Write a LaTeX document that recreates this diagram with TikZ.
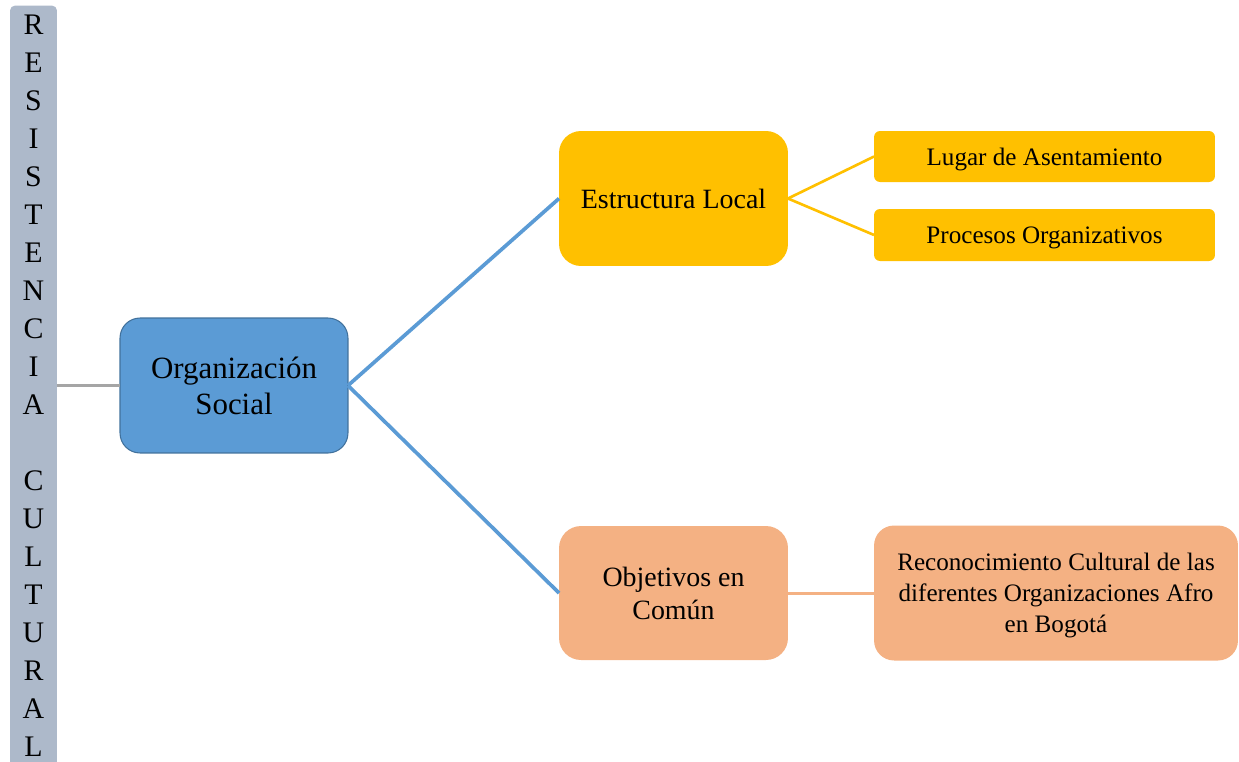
\documentclass[tikz,border=0pt]{standalone}
\usepackage{fontspec}
\setmainfont{Liberation Serif}
\usepackage{tikz}

\definecolor{barcolor}{HTML}{ADB9CA}
\definecolor{orgblue}{HTML}{5B9BD5}
\definecolor{orgedge}{HTML}{41719C}
\definecolor{estrgold}{HTML}{FFC000}
\definecolor{objpeach}{HTML}{F4B183}
\definecolor{linkgray}{HTML}{A5A5A5}

\tikzset{
  box/.style={rectangle, inner sep=0pt, outer sep=0pt, align=center, text=black},
  barletter/.style={inner sep=0pt, font=\fontsize{17}{20}\selectfont},
  link/.style={line width=2.1pt}
}

\begin{document}
\begin{tikzpicture}[x=0.02cm, y=-0.02cm]
  \useasboundingbox (0,0) rectangle (1239,761);

  % Side bar
  \node[box, fill=barcolor, rounded corners=0.1cm, minimum width=0.94cm, minimum height=15.9cm] (barra) at (33.5,403) {};
  \foreach \ch [count=\i from 0] in {R,E,S,I,S,T,E,N,C,I,A,{},C,U,L,T,U,R,A,L} {
    \node[barletter] (letra\i) at (33.5,25+\i*38) {\ch};
  }

  % Main node
  \node[box, fill=orgblue, draw=orgedge, line width=0.6pt, rounded corners=0.4cm,
        minimum width=4.56cm, minimum height=2.7cm, font=\fontsize{17.6}{20.5}\selectfont]
        (org) at (234,385.5) {Organización\\Social};

  % Second level
  \node[box, fill=estrgold, rounded corners=0.44cm, minimum width=4.58cm, minimum height=2.7cm,
        font=\fontsize{15.9}{18.8}\selectfont] (estr) at (673.5,198.5) {Estructura Local};
  \node[box, fill=objpeach, rounded corners=0.44cm, minimum width=4.58cm, minimum height=2.68cm,
        font=\fontsize{15.9}{18.8}\selectfont] (obj) at (673.5,593) {Objetivos en\\Común};

  % Third level
  \node[box, fill=estrgold, rounded corners=0.12cm, minimum width=6.82cm, minimum height=1.02cm,
        text depth=0pt, font=\fontsize{14.3}{17.6}\selectfont] (lugar) at (1044.5,156.5) {Lugar de Asentamiento};
  \node[box, fill=estrgold, rounded corners=0.12cm, minimum width=6.82cm, minimum height=1.04cm,
        text depth=0pt, font=\fontsize{14.3}{17.6}\selectfont] (proc) at (1044.5,235) {Procesos Organizativos};
  \node[box, fill=objpeach, rounded corners=0.4cm, minimum width=7.28cm, minimum height=2.7cm,
        text depth=0pt, font=\fontsize{14.3}{17.7}\selectfont] (recon) at (1056,593)
        {Reconocimiento Cultural de las\\diferentes Organizaciones Afro\\en Bogotá};

  % Links
  \draw[link, linkgray, line width=1.7pt] (barra.east |- org.west) -- (org.west);
  \draw[link, orgblue] (org.east) -- (estr.west);
  \draw[link, orgblue] (org.east) -- (obj.west);
  \draw[link, estrgold, line width=1.5pt] (estr.east) -- (lugar.west);
  \draw[link, estrgold, line width=1.5pt] (estr.east) -- (proc.west);
  \draw[link, objpeach, line width=1.7pt] (obj.east) -- (recon.west);
\end{tikzpicture}
\end{document}
